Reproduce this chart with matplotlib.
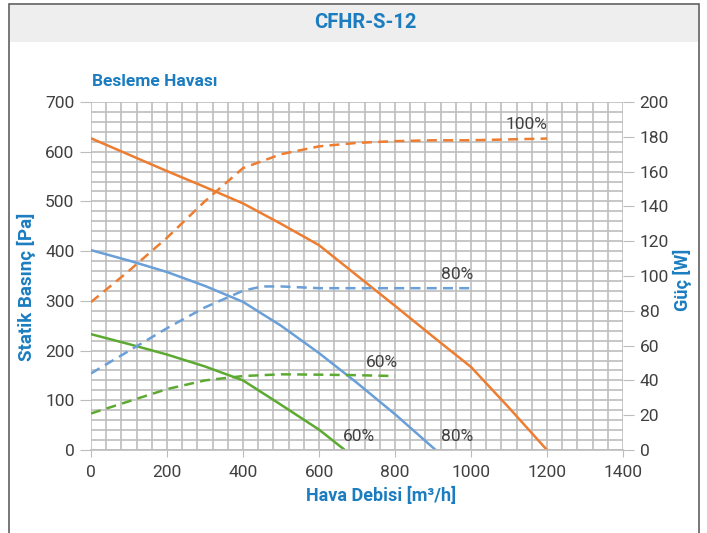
import matplotlib
matplotlib.use("Agg")
import matplotlib.pyplot as plt
from matplotlib.patches import Rectangle
from matplotlib.ticker import MultipleLocator

# hava debisi [m3/h] ve statik basinc [Pa]
x100_p = [0, 100, 200, 300, 400, 500, 600, 700, 800, 900, 1000, 1100, 1200]
p100 = [627, 594, 561, 529, 496, 455, 412, 351, 290, 228, 167, 85, 0]
x80_p = [0, 100, 200, 300, 400, 500, 600, 700, 800, 907]
p80 = [402, 381, 358, 330, 298, 250, 195, 135, 72, 0]
x60_p = [0, 100, 200, 300, 400, 500, 600, 668]
p60 = [233, 213, 192, 168, 140, 91, 41, 0]

# guc [W]
x100_w = [0, 100, 200, 300, 400, 500, 600, 700, 800, 900, 1000, 1100, 1200]
w100 = [85, 103, 122, 143, 162, 170, 174.5, 176.5, 177.5, 178, 178, 178.5, 179]
x80_w = [0, 100, 200, 300, 400, 450, 500, 600, 700, 800, 900, 1000]
w80 = [44, 57, 70, 82, 91.5, 94, 94, 93, 93, 93, 93, 93]
x60_w = [0, 100, 200, 300, 400, 500, 600, 700, 800]
w60 = [21, 28, 35, 40, 42.5, 43.5, 43.3, 43, 42.5]

orange = '#ED7D31'
blue = '#6A9FD8'
green = '#5DAA32'
title_blue = '#1B7DC0'
gray_txt = '#404040'
grid_c = '#BDBDBD'

plt.rcParams['font.family'] = ['Roboto', 'DejaVu Sans']

fig = plt.figure(figsize=(7.07, 5.33), dpi=100)
fig.patch.set_facecolor('white')

# cerceve ve baslik bandi
fig.add_artist(Rectangle((9/707, -0.05), 690/707, 1.05 - 4/533, transform=fig.transFigure,
                         facecolor='none', edgecolor='#606060', lw=1.2))
fig.add_artist(Rectangle((10/707, 1 - 42/533), 688/707, 37/533, transform=fig.transFigure,
                         facecolor='#EFEEEE', edgecolor='none'))
fig.text(365/707, 1 - 22/533, 'CFHR-S-12', ha='center', va='center', color=title_blue,
         fontsize=14.5, fontweight='bold')
fig.text(92/707, 1 - 82/533, 'Besleme Havası', ha='left', va='center', color=title_blue,
         fontsize=12.5, fontweight='bold')

ax = fig.add_axes([91/707, 1 - 450/533, 532/707, 348/533])
ax.set_xlim(0, 1400)
ax.set_ylim(0, 700)
ax.xaxis.set_major_locator(MultipleLocator(200))
ax.xaxis.set_minor_locator(MultipleLocator(40))
ax.yaxis.set_major_locator(MultipleLocator(100))
ax.yaxis.set_minor_locator(MultipleLocator(20))
ax.grid(which='both', color=grid_c, lw=1.2)
ax.set_axisbelow(True)
ax.tick_params(which='minor', length=0)
ax.tick_params(axis='y', which='major', length=8, color=grid_c, labelcolor=gray_txt, labelsize=12.5, pad=4)
ax.tick_params(axis='x', which='major', length=5, color=grid_c, labelcolor=gray_txt, labelsize=12.5, pad=6)
for s in ax.spines.values():
    s.set_visible(False)
ax.spines['bottom'].set_visible(True)
ax.spines['bottom'].set_color(grid_c)
ax.spines['bottom'].set_linewidth(1.2)

ax.plot(x100_p, p100, color=orange, lw=1.8)
ax.plot(x80_p, p80, color=blue, lw=1.8)
ax.plot(x60_p, p60, color=green, lw=1.8)

ax.set_xlabel('Hava Debisi [m³/h]', color=title_blue, fontsize=13, fontweight='bold')
ax.set_ylabel('Statik Basınç [Pa]', color=title_blue, fontsize=13.5, fontweight='bold')
ax.xaxis.set_label_coords((381 - 91) / 532, (450 - 487) / 348)
ax.yaxis.set_label_coords((36 - 91) / 532, (450 - 287) / 348)

ax2 = ax.twinx()
ax2.set_ylim(0, 200)
ax2.yaxis.set_major_locator(MultipleLocator(20))
ax2.tick_params(axis='y', length=8, color=grid_c, labelcolor=gray_txt, labelsize=12.5, pad=4)
for s in ax2.spines.values():
    s.set_visible(False)
ax2.plot(x100_w, w100, color=orange, lw=1.8, dashes=(4, 2.5))
ax2.plot(x80_w, w80, color=blue, lw=1.8, dashes=(4, 2.5))
ax2.plot(x60_w, w60, color=green, lw=1.8, dashes=(4, 2.5))
ax2.set_ylabel('Güç [W]', color=title_blue, fontsize=13, fontweight='bold', rotation=90)
ax2.yaxis.set_label_coords((673 - 91) / 532, (450 - 280) / 348)

# egri etiketleri
for tx, ty, t in [(1146, 654, '100%'), (964, 354, '80%'), (766, 177, '60%'),
                  (705, 27, '60%'), (964, 27, '80%')]:
    ax.text(tx, ty, t, ha='center', va='center', color=gray_txt, fontsize=12.5)

plt.savefig('out.png', dpi=100)
